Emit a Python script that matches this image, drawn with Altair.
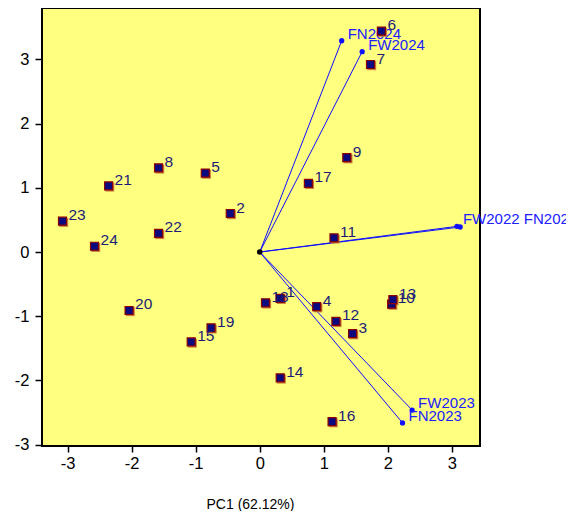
import altair as alt
import pandas as pd

# Sample scores (PC1, PC2)
sample_ids = ["1", "2", "3", "4", "5", "6", "7", "8", "9", "10", "11", "12",
              "13", "14", "15", "16", "17", "18", "19", "20", "21", "22", "23", "24"]
sample_pc1 = [0.32, -0.46, 1.45, 0.89, -0.85, 1.90, 1.73, -1.58, 1.36, 2.06, 1.16, 1.19,
              2.08, 0.32, -1.07, 1.13, 0.76, 0.09, -0.76, -2.04, -2.36, -1.58, -3.08, -2.58]
sample_pc2 = [-0.72, 0.60, -1.27, -0.85, 1.23, 3.44, 2.92, 1.31, 1.47, -0.81, 0.22, -1.08,
              -0.74, -1.96, -1.40, -2.64, 1.07, -0.79, -1.18, -0.91, 1.03, 0.29, 0.48, 0.09]

# Variable loadings (arrow tips)
var_names = ["FN2024", "FW2024", "FW2022", "FN2022", "FW2023", "FN2023"]
var_labels = ["FN2024", "FW2024", "FW2022 FN2022", "", "FW2023", "FN2023"]
var_pc1 = [1.28, 1.60, 3.08, 3.13, 2.38, 2.23]
var_pc2 = [3.29, 3.12, 0.40, 0.39, -2.46, -2.66]

x_ticks = [-3, -2, -1, 0, 1, 2, 3]
y_ticks = [-3, -2, -1, 0, 1, 2, 3]

samples = pd.DataFrame({"id": sample_ids, "pc1": sample_pc1, "pc2": sample_pc2})
variables = pd.DataFrame({"name": var_names, "label": var_labels,
                          "pc1": var_pc1, "pc2": var_pc2,
                          "x0": [0.0] * len(var_names), "y0": [0.0] * len(var_names)})
origin = pd.DataFrame({"pc1": [0.0], "pc2": [0.0]})

FONT = "Liberation Sans"

xs = alt.Scale(domain=[-3.40, 3.44], nice=False, zero=False)
ys = alt.Scale(domain=[-3.02, 3.80], nice=False, zero=False)

x_axis = alt.Axis(
    values=x_ticks, title="PC1 (62.12%)", grid=False, domain=False,
    labelExpr="'' + datum.value",
    tickColor="black", tickSize=6, tickWidth=1.5, labelPadding=3,
    labelFont=FONT, labelFontSize=16.5, labelColor="black",
    titleFont=FONT, titleFontSize=14, titleFontWeight="normal", titleColor="black",
    titleX=208, titleY=51, titleAlign="center", titleBaseline="top")
y_axis = alt.Axis(
    values=y_ticks, title="", grid=False, domain=False,
    labelExpr="'' + datum.value",
    tickColor="black", tickSize=7, tickWidth=1.5, labelPadding=6,
    labelFont=FONT, labelFontSize=16.5, labelColor="black")


def X(field):
    return alt.X(field, type="quantitative", scale=xs, axis=x_axis, title="PC1 (62.12%)")


def Y(field):
    return alt.Y(field, type="quantitative", scale=ys, axis=y_axis, title="")


base_s = alt.Chart(samples)
base_v = alt.Chart(variables)

arrows = base_v.mark_rule(color="#1010ff", strokeWidth=1).encode(
    x=X("x0"), y=Y("y0"), x2="pc1:Q", y2="pc2:Q")

tips = base_v.mark_circle(color="#1010ff", size=28, opacity=1).encode(x=X("pc1"), y=Y("pc2"))

var_text = base_v.mark_text(align="left", baseline="middle", dx=6, dy=-7,
                            font=FONT, fontSize=15, color="#2020ff").encode(
    x=X("pc1"), y=Y("pc2"), text="label:N")

org = alt.Chart(origin).mark_circle(color="black", size=30, opacity=1).encode(
    x=X("pc1"), y=Y("pc2"))

shadow = base_s.mark_point(shape="square", filled=True, size=80, color="#c8803c",
                           opacity=1, xOffset=1.2, yOffset=1.2).encode(x=X("pc1"), y=Y("pc2"))
squares = base_s.mark_point(shape="square", filled=True, size=64, fill="#0a0a80",
                            stroke="#8b0000", strokeWidth=1.2, opacity=1).encode(
    x=X("pc1"), y=Y("pc2"))

s_text = base_s.mark_text(align="left", baseline="middle", dx=6, dy=-6,
                          font=FONT, fontSize=15.5, color="#1c1c78").encode(
    x=X("pc1"), y=Y("pc2"), text="id:N")

chart = alt.layer(arrows, tips, var_text, org, shadow, squares, s_text).properties(
    width=438, height=438,
    padding={"left": 34, "top": 0, "right": 86, "bottom": 65},
    autosize=alt.AutoSizeParams(type="none"),
    background="white",
).configure_view(fill="#ffff80", stroke="black", strokeWidth=2)

chart.save("out.html", embed_options={"renderer": "svg", "actions": False})
